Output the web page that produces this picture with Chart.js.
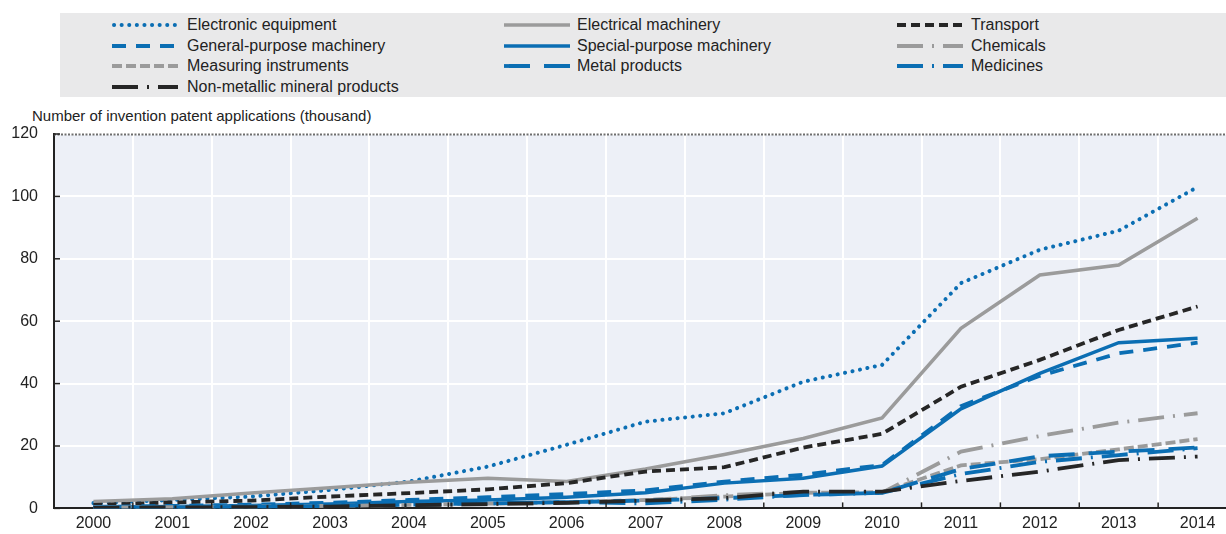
<!DOCTYPE html>
<html>
<head>
<meta charset="utf-8">
<script src="https://cdn.jsdelivr.net/npm/chart.js@4.4.1/dist/chart.umd.min.js"></script>
<style>
  html, body { margin: 0; padding: 0; width: 1226px; height: 534px; overflow: hidden; background: #fff; font-family: "Liberation Sans", Arial, sans-serif; }
  #legend { position: absolute; left: 60px; top: 13px; width: 1166px; height: 84px; background: #e9e9ea; }
  .item { position: absolute; height: 20px; font-size: 16px; color: #222; line-height: 20px; white-space: nowrap; }
  .item svg { position: absolute; top: 4px; }
  .item span { position: absolute; }
  #ytitle { position: absolute; left: 32px; top: 107px; font-size: 15px; color: #222; white-space: nowrap; }
  #wrap { position: absolute; left: 0; top: 100px; width: 1237px; height: 434px; }
</style>
</head>
<body>
<div id="legend"></div>
<div id="ytitle">Number of invention patent applications (thousand)</div>
<div id="wrap"><canvas id="c" width="1237" height="434"></canvas></div>
<script>
// ---- Data ----
const years = ['2000','2001','2002','2003','2004','2005','2006','2007','2008','2009','2010','2011','2012','2013','2014'];
const electronic  = [1.7, 2.7, 3.8, 5.9, 8.6, 13.4, 20.4, 27.8, 30.5, 40.6, 46.0, 72.2, 82.9, 89.0, 103.0];
const electrical  = [2.2, 3.1, 4.9, 6.6, 8.4, 9.7, 8.6, 12.6, 17.3, 22.4, 29.0, 57.7, 74.8, 78.0, 93.0];
const transport   = [1.1, 1.9, 2.5, 3.8, 4.9, 6.1, 8.1, 11.8, 13.2, 19.5, 23.9, 39.0, 47.6, 57.2, 64.7];
const generalPurp = [0.5, 0.8, 1.2, 1.8, 2.7, 3.6, 4.6, 5.8, 8.6, 10.8, 13.9, 32.8, 42.5, 49.7, 53.1];
const specialPurp = [0.4, 0.6, 0.9, 1.4, 2.2, 2.7, 3.6, 5.0, 8.1, 9.7, 13.6, 31.9, 43.3, 53.1, 54.5];
const chemicals   = [0.3, 0.4, 0.5, 0.7, 1.0, 1.3, 1.8, 2.6, 4.2, 5.3, 5.0, 18.2, 23.2, 27.5, 30.5];
const measuring   = [0.3, 0.4, 0.6, 0.8, 1.1, 1.5, 2.0, 2.7, 3.8, 5.0, 5.2, 13.8, 15.8, 18.9, 22.2];
const metal       = [0.2, 0.3, 0.5, 0.8, 1.2, 1.6, 2.0, 2.5, 3.3, 4.3, 5.0, 12.6, 16.7, 18.2, 19.5];
const medicines   = [0.3, 0.4, 0.6, 0.9, 1.2, 1.7, 2.0, 1.6, 2.8, 4.3, 5.0, 11.0, 14.9, 17.1, 19.3];
const nonMetallic = [0.2, 0.3, 0.4, 0.6, 1.0, 1.4, 1.8, 2.5, 3.3, 5.4, 5.4, 8.8, 11.8, 15.5, 16.6];
const yTicks = [0, 20, 40, 60, 80, 100, 120];

const BLUE = '#0b6eb3', GREY = '#9b9b9b', BLACK = '#262626';

const series = [
  {label:'Electronic equipment', data: electronic, color: BLUE, dash:[0.1,7.5], cap:'round', w:4, col:0, row:0},
  {label:'Electrical machinery', data: electrical, color: GREY, dash:[], cap:'butt', w:3.5, col:1, row:0},
  {label:'Transport', data: transport, color: BLACK, dash:[9,5], cap:'butt', w:3.8, col:2, row:0},
  {label:'General-purpose machinery', data: generalPurp, color: BLUE, dash:[14,10], cap:'butt', w:3.8, col:0, row:1},
  {label:'Special-purpose machinery', data: specialPurp, color: BLUE, dash:[], cap:'butt', w:3.5, col:1, row:1},
  {label:'Chemicals', data: chemicals, color: GREY, dash:[26,9,2,9], cap:'butt', w:3.8, col:2, row:1},
  {label:'Measuring instruments', data: measuring, color: GREY, dash:[10,4], cap:'butt', w:3.8, col:0, row:2},
  {label:'Metal products', data: metal, color: BLUE, dash:[26,14], cap:'butt', w:3.8, col:1, row:2},
  {label:'Medicines', data: medicines, color: BLUE, dash:[26,9,2,9], cap:'butt', w:3.8, col:2, row:2},
  {label:'Non-metallic mineral products', data: nonMetallic, color: BLACK, dash:[26,9,2,9], cap:'butt', w:3.8, col:0, row:3}
];

// ---- HTML legend ----
const colSample = [52, 444, 837];   // relative to legend box
const colText = [127, 517, 911];
const rowY = [2, 22.5, 43, 63.5];
const leg = document.getElementById('legend');
series.forEach(s => {
  const d = document.createElement('div');
  d.className = 'item';
  d.style.left = '0px';
  d.style.top = rowY[s.row] + 'px';
  const sw = 66;
  const dashAttr = s.dash.length ? `stroke-dasharray="${s.dash.join(' ')}"` : '';
  d.innerHTML = `<svg width="${sw}" height="12" style="left:${colSample[s.col]}px"><line x1="${s.cap==='round'?2:0}" y1="6" x2="${sw}" y2="6" stroke="${s.color}" stroke-width="${s.w}" stroke-linecap="${s.cap}" ${dashAttr}/></svg><span style="left:${colText[s.col]}px">${s.label}</span>`;
  leg.appendChild(d);
});

// ---- Plugins ----
const plotDeco = {
  id: 'plotDeco',
  beforeDraw(chart) {
    const {ctx, chartArea: a} = chart;
    ctx.save();
    ctx.fillStyle = '#edf0f7';
    ctx.fillRect(a.left, a.top, a.right - a.left, a.bottom - a.top);
    ctx.restore();
  },
  afterDraw(chart) {
    const {ctx, chartArea: a, scales} = chart;
    ctx.save();
    // top dashed border
    ctx.strokeStyle = '#6e6e6e';
    ctx.lineWidth = 2;
    ctx.setLineDash([2, 1.5]);
    ctx.beginPath();
    ctx.moveTo(a.left, a.top + 0.5);
    ctx.lineTo(a.right, a.top + 0.5);
    ctx.stroke();
    ctx.setLineDash([]);
    // inner tick marks
    ctx.strokeStyle = '#222';
    ctx.lineWidth = 1.5;
    const xs = scales.x;
    for (let i = 1; i < years.length; i++) {
      const x = (xs.getPixelForValue(i - 1) + xs.getPixelForValue(i)) / 2;
      ctx.beginPath(); ctx.moveTo(x, a.bottom); ctx.lineTo(x, a.bottom - 6); ctx.stroke();
    }
    const ys = scales.y;
    yTicks.forEach(v => {
      const y = ys.getPixelForValue(v);
      ctx.beginPath(); ctx.moveTo(a.left, y); ctx.lineTo(a.left + 6, y); ctx.stroke();
    });
    ctx.restore();
  }
};

new Chart(document.getElementById('c'), {
  type: 'line',
  data: {
    labels: years,
    datasets: series.map(s => ({
      label: s.label,
      data: s.data,
      borderColor: s.color,
      backgroundColor: s.color,
      borderWidth: s.w,
      borderDash: s.dash,
      borderCapStyle: s.cap,
      pointRadius: 0,
      tension: 0,
      fill: false
    })).reverse()
  },
  options: {
    responsive: false,
    animation: false,
    layout: { padding: { top: 34, left: 0, right: 0, bottom: 0 } },
    plugins: { legend: { display: false }, title: { display: false }, tooltip: { enabled: false } },
    scales: {
      x: {
        type: 'category',
        offset: true,
        grid: { offset: true, color: '#ffffff', lineWidth: 2, drawTicks: false },
        border: { color: '#222', width: 2 },
        ticks: { color: '#222', font: { family: 'Liberation Sans', size: 16 }, padding: 6, maxRotation: 0, autoSkip: false },
        afterFit(scale) { scale.height = 25.5; }
      },
      y: {
        min: 0, max: 120,
        afterBuildTicks(scale) { scale.ticks = yTicks.map(v => ({ value: v })); },
        grid: { color: '#ffffff', lineWidth: 2, drawTicks: false },
        border: { color: '#222', width: 2 },
        ticks: { color: '#222', font: { family: 'Liberation Sans', size: 16 }, padding: 16 },
        afterFit(scale) { scale.width = 54; }
      }
    }
  },
  plugins: [plotDeco]
});
</script>
</body>
</html>
